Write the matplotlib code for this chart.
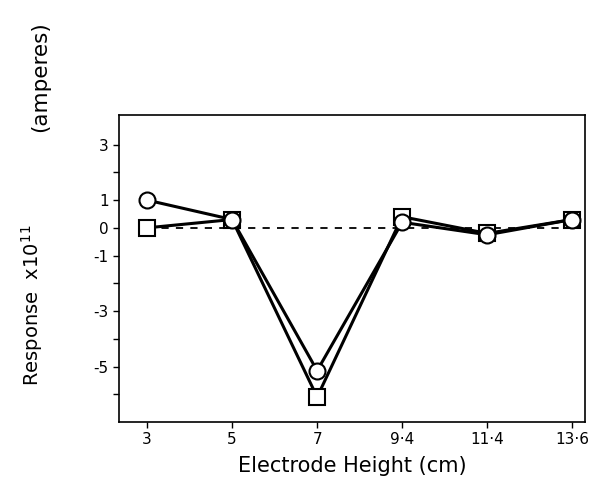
import numpy as np
import matplotlib.pyplot as plt

# electrode heights (cm) and responses (x10^11 A)
heights = ["3", "5", "7", "9·4", "11·4", "13·6"]
resp_circle = [1.0, 0.3, -5.15, 0.2, -0.25, 0.3]
resp_square = [0.0, 0.3, -6.1, 0.4, -0.2, 0.3]

yticks = [3, 2, 1, 0, -1, -2, -3, -4, -5, -6]
ytick_labels = ["3", "", "1", "0", "-1", "", "-3", "", "-5", ""]

fig = plt.figure(figsize=(5.9, 4.82), dpi=100)
ax = fig.add_axes([0.2017, 0.1245, 0.7898, 0.637])

x = np.arange(len(heights))
ax.plot([x[0], x[-1] + 0.05], [0, 0], ls=(0, (4, 4)), color="black", lw=1.3)
ax.plot(x, resp_square, color="black", lw=2.2, marker="s", ms=11,
        mfc="white", mec="black", mew=1.5)
ax.plot(x, resp_circle, color="black", lw=2.2, marker="o", ms=11.5,
        mfc="white", mec="black", mew=1.5)

ax.set_xlim(-0.33, 5.15)
ax.set_ylim(-7.0, 4.07)
ax.set_xticks(x)
ax.set_xticklabels(heights, fontsize=11)
ax.set_yticks(yticks)
ax.set_yticklabels(ytick_labels, fontsize=11)
ax.tick_params(direction="out", length=4, width=1)
for s in ax.spines.values():
    s.set_linewidth(1.2)

ax.set_xlabel("Electrode Height (cm)", fontsize=15, labelpad=6)
fig.text(32 / 590, 1 - 305 / 482, "Response  x10$^{11}$", rotation=90,
         ha="center", va="center", fontsize=14)
fig.text(40 / 590, 1 - 77 / 482, "(amperes)", rotation=90,
         ha="center", va="center", fontsize=15.5)

plt.savefig("out.png", dpi=100)
